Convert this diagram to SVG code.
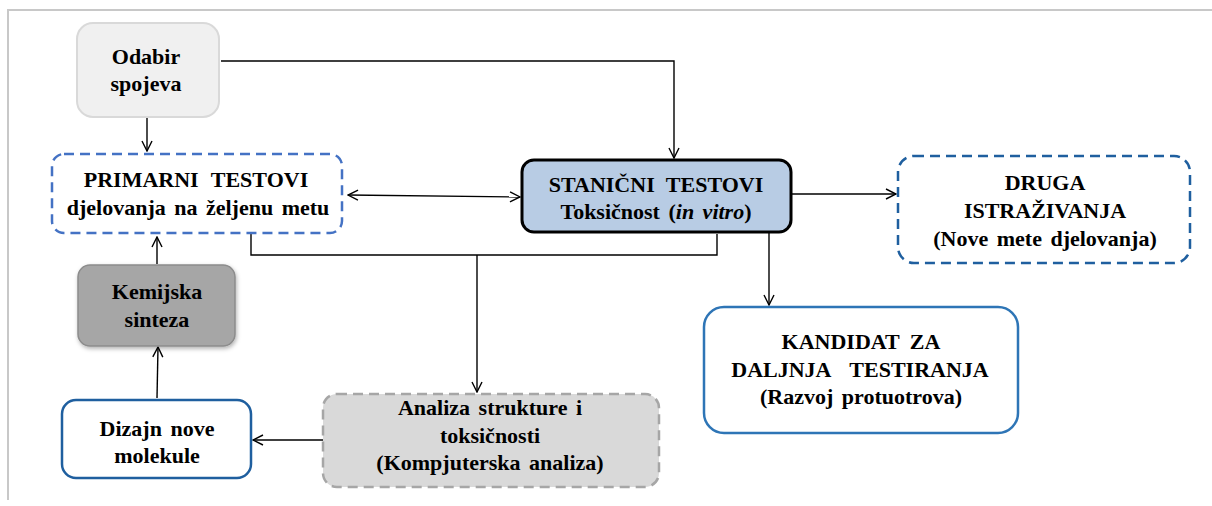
<svg xmlns="http://www.w3.org/2000/svg" width="1212" height="506" viewBox="0 0 1212 506">
<defs>
<marker id="arr" viewBox="0 0 12 12" refX="11" refY="6" markerWidth="12" markerHeight="12" markerUnits="userSpaceOnUse" orient="auto-start-reverse">
<path d="M1,1 L11,6 L1,11" fill="none" stroke="#000" stroke-width="1.4"/>
</marker>
<filter id="sh" x="-10%" y="-10%" width="130%" height="140%">
<feDropShadow dx="1" dy="2" stdDeviation="2" flood-color="#000" flood-opacity="0.3"/>
</filter>
</defs>
<style>
text{font-family:"Liberation Serif","Times New Roman",serif;font-weight:bold;font-size:22px;fill:#000;text-anchor:middle;word-spacing:3px}
.c{fill:none;stroke:#000;stroke-width:1.4}
</style>
<rect width="1212" height="506" fill="#fff"/>
<path d="M8,500 V10 H1212" fill="none" stroke="#c8c8c8" stroke-width="2"/>

<g id="connectors">
<path class="c" d="M221,61 H674 V158" marker-end="url(#arr)"/>
<path class="c" d="M147,118 V151" marker-end="url(#arr)"/>
<path class="c" d="M348,195 L520,197" marker-start="url(#arr)" marker-end="url(#arr)"/>
<path class="c" d="M792,194 H896" marker-end="url(#arr)"/>
<path class="c" d="M769,233 V305" marker-end="url(#arr)"/>
<path class="c" d="M251,234 V255 H717 V234"/>
<path class="c" d="M477,255 V392" marker-end="url(#arr)"/>
<path class="c" d="M323,440 H253" marker-end="url(#arr)"/>
<path class="c" d="M157,398 L158,347" marker-end="url(#arr)"/>
<path class="c" d="M157,264 V237" marker-end="url(#arr)"/>
</g>

<g id="odabir">
<rect x="77" y="23" width="142" height="94" rx="16" fill="#f0f0f0" stroke="#d9d9d9" stroke-width="2"/>
<text x="146" y="64">Odabir</text>
<text x="146" y="91">spojeva</text>
</g>

<g id="primarni">
<rect x="52" y="154" width="290" height="79" rx="12" fill="#fff" stroke="#4472c4" stroke-width="2.5" stroke-dasharray="10,6"/>
<text x="196" y="187" style="word-spacing:7px">PRIMARNI TESTOVI</text>
<text x="198" y="215">djelovanja na željenu metu</text>
</g>

<g id="stanicni">
<rect x="522" y="160" width="269" height="72" rx="12" fill="#b8cce4" stroke="#000" stroke-width="3"/>
<text x="656" y="192" style="word-spacing:6px">STANIČNI TESTOVI</text>
<text x="656" y="219">Toksičnost (<tspan font-style="italic">in vitro</tspan>)</text>
</g>

<g id="druga">
<rect x="898" y="156" width="292" height="107" rx="16" fill="#fff" stroke="#1f5f9f" stroke-width="2.5" stroke-dasharray="10,6"/>
<text x="1045" y="190">DRUGA</text>
<text x="1045" y="218">ISTRAŽIVANJA</text>
<text x="1045" y="246">(Nove mete djelovanja)</text>
</g>

<g id="kandidat">
<rect x="704" y="307" width="314" height="126" rx="20" fill="#fff" stroke="#2e75b6" stroke-width="2.5"/>
<text x="861" y="349" style="word-spacing:5px">KANDIDAT ZA</text>
<text x="860" y="377" style="word-spacing:14px">DALJNJA TESTIRANJA</text>
<text x="861" y="404">(Razvoj protuotrova)</text>
</g>

<g id="kemijska">
<rect x="78" y="265" width="157" height="81" rx="12" fill="#a6a6a6" stroke="#8c8c8c" stroke-width="1.5" filter="url(#sh)"/>
<text x="157" y="299">Kemijska</text>
<text x="157" y="327">sinteza</text>
</g>

<g id="dizajn">
<rect x="62" y="400" width="189" height="78" rx="14" fill="#fff" stroke="#1f5f9f" stroke-width="2.5"/>
<text x="157" y="436">Dizajn nove</text>
<text x="157" y="463">molekule</text>
</g>

<g id="analiza">
<rect x="323" y="394" width="336" height="93" rx="14" fill="#d9d9d9" stroke="#a6a6a6" stroke-width="2.5" stroke-dasharray="10,6"/>
<text x="490" y="415">Analiza strukture i</text>
<text x="490" y="443">toksičnosti</text>
<text x="490" y="470">(Kompjuterska analiza)</text>
</g>
</svg>
